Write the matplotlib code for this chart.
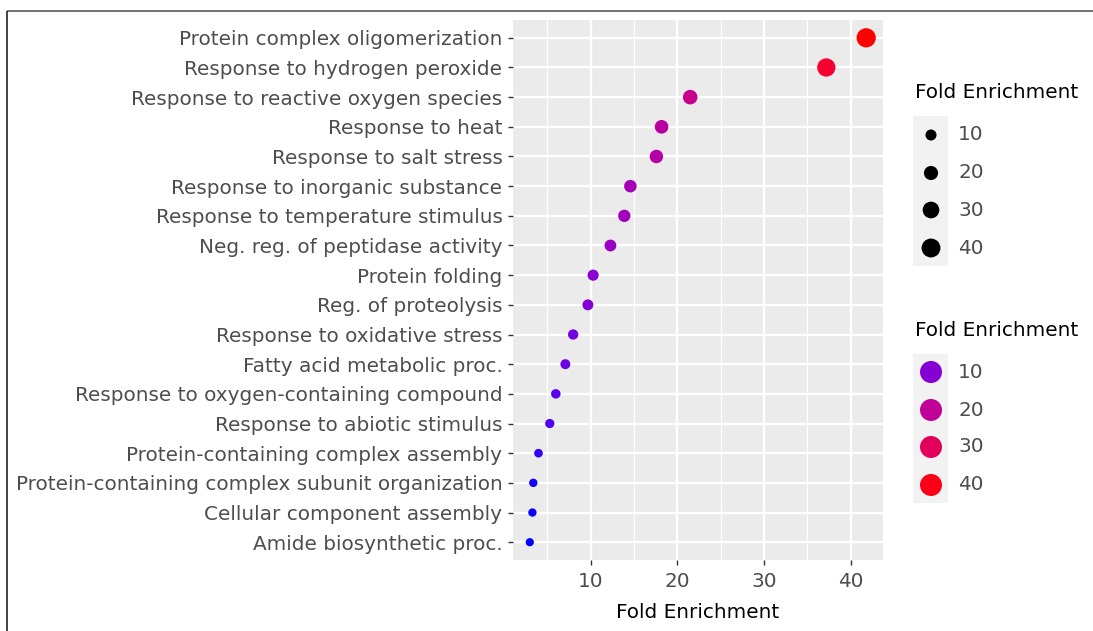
"""
Dot plot of enriched GO terms, ggplot-like look.
Size and colour both encode fold enrichment (blue -> red, Lab interpolation).
"""

import matplotlib
matplotlib.use("Agg")
import matplotlib.pyplot as plt
import matplotlib.colors as mcolors
import numpy as np

OUTPUT_PATH = "out.png"

# ── data (top of the chart first) ─────────────────────────────────────────────
TERMS = [
    "Protein complex oligomerization",
    "Response to hydrogen peroxide",
    "Response to reactive oxygen species",
    "Response to heat",
    "Response to salt stress",
    "Response to inorganic substance",
    "Response to temperature stimulus",
    "Neg. reg. of peptidase activity",
    "Protein folding",
    "Reg. of proteolysis",
    "Response to oxidative stress",
    "Fatty acid metabolic proc.",
    "Response to oxygen-containing compound",
    "Response to abiotic stimulus",
    "Protein-containing complex assembly",
    "Protein-containing complex subunit organization",
    "Cellular component assembly",
    "Amide biosynthetic proc.",
]
FOLD = [41.8, 37.2, 21.5, 18.2, 17.6, 14.6, 13.9, 12.3, 10.3,
        9.7, 8.0, 7.1, 6.0, 5.3, 4.0, 3.4, 3.3, 3.0]
LEGEND_VALUES = [10, 20, 30, 40]
X_TICKS = [10, 20, 30, 40]

TEXT_GRAY = "#4D4D4D"
PANEL_BG = "#EBEBEB"
KEY_BG = "#F2F2F2"
FONT = "DejaVu Sans"
FS = 14.4

plt.rcParams["font.family"] = FONT
PX = 0.72  # points per pixel at dpi=100


# ── colour scale: ggplot gradient blue -> red interpolated in Lab ─────────────
def _srgb_to_lab(rgb):
    rgb = np.asarray(rgb, float)
    lin = np.where(rgb <= 0.04045, rgb / 12.92, ((rgb + 0.055) / 1.055) ** 2.4)
    m = np.array([[0.4124, 0.3576, 0.1805],
                  [0.2126, 0.7152, 0.0722],
                  [0.0193, 0.1192, 0.9505]])
    xyz = m @ lin / np.array([0.95047, 1.0, 1.08883])
    d = 6 / 29
    f = np.where(xyz > d ** 3, np.cbrt(xyz), xyz / (3 * d * d) + 4 / 29)
    return np.array([116 * f[1] - 16, 500 * (f[0] - f[1]), 200 * (f[1] - f[2])])


def _lab_to_srgb(lab):
    L, a, b = lab
    fy = (L + 16) / 116
    f = np.array([fy + a / 500, fy, fy - b / 200])
    d = 6 / 29
    xyz = np.where(f > d, f ** 3, 3 * d * d * (f - 4 / 29))
    xyz = xyz * np.array([0.95047, 1.0, 1.08883])
    minv = np.array([[3.2406, -1.5372, -0.4986],
                     [-0.9689, 1.8758, 0.0415],
                     [0.0557, -0.2040, 1.0570]])
    lin = np.clip(minv @ xyz, 0, 1)
    rgb = np.where(lin <= 0.0031308, lin * 12.92, 1.055 * lin ** (1 / 2.4) - 0.055)
    return np.clip(rgb, 0, 1)


lab_lo = _srgb_to_lab([0, 0, 1])
lab_hi = _srgb_to_lab([1, 0, 0])
cmap = mcolors.LinearSegmentedColormap.from_list(
    "blue_red_lab",
    [_lab_to_srgb(lab_lo + t * (lab_hi - lab_lo)) for t in np.linspace(0, 1, 64)],
)
norm = mcolors.Normalize(vmin=min(FOLD), vmax=max(FOLD))


def dot_size(v):
    # marker area grows linearly with the value (px^2 -> pt^2)
    area_px = 44 + 7.8 * np.asarray(v, float)
    return area_px * PX * PX


# ── figure ────────────────────────────────────────────────────────────────────
W, H = 1093, 631
fig = plt.figure(figsize=(W / 100, H / 100), dpi=100)
fig.patch.set_facecolor("white")

ax = fig.add_axes([513 / W, 1 - 560 / H, (883 - 513) / W, (560 - 20) / H])
ax.set_facecolor(PANEL_BG)
for sp in ax.spines.values():
    sp.set_visible(False)

ypos = np.arange(len(TERMS))[::-1]
ax.set_xlim(1.06, 43.74)
ax.set_ylim(-0.6, len(TERMS) - 0.4)

ax.set_xticks(X_TICKS)
ax.set_xticks([5, 15, 25, 35], minor=True)
ax.set_yticks(ypos)
ax.set_yticklabels(TERMS)
ax.grid(which="major", color="white", linewidth=1.7)
ax.grid(which="minor", axis="x", color="white", linewidth=0.9)
ax.set_axisbelow(True)
ax.tick_params(axis="y", which="major", length=3.6, width=1.0,
               color="#333333", labelcolor=TEXT_GRAY, labelsize=FS, pad=4)
ax.tick_params(axis="x", which="major", length=3.6, width=1.0,
               color="#333333", labelcolor=TEXT_GRAY, labelsize=FS, pad=5)
ax.tick_params(axis="both", which="minor", length=0)

ax.scatter(FOLD, ypos, s=dot_size(FOLD), c=FOLD, cmap=cmap, norm=norm,
           linewidths=0, zorder=3)

ax.set_xlabel("Fold Enrichment", fontsize=FS, color="black", labelpad=9)

# ── legends + outer frame, drawn on a pixel-coordinate overlay ────────────────
lax = fig.add_axes([0, 0, 1, 1], facecolor="none")
lax.set_xlim(0, W)
lax.set_ylim(H, 0)
lax.axis("off")

# frame lines (top and left)
lax.plot([7, W], [10.5, 10.5], color="#5A5A5A", linewidth=1.2, solid_capstyle="butt")
lax.plot([7, 7], [10.5, H], color="#222222", linewidth=1.2, solid_capstyle="butt")

leg_rows = {
    "size": (92, 116, 266, [135, 173, 210, 248]),
    "colour": (330, 354, 503, [372, 410, 447, 485]),
}

for kind, (title_y, bg_top, bg_bot, rows) in leg_rows.items():
    lax.text(915, title_y, "Fold Enrichment", fontsize=FS, color="black",
             ha="left", va="center")
    lax.add_patch(plt.Rectangle((913, bg_top), 35, bg_bot - bg_top,
                                facecolor=KEY_BG, edgecolor="none"))
    if kind == "size":
        lax.scatter([931] * len(rows), rows, s=dot_size(LEGEND_VALUES),
                    color="black", linewidths=0, zorder=3)
    else:
        lax.scatter([931] * len(rows), rows, s=(22 * PX) ** 2,
                    c=LEGEND_VALUES, cmap=cmap, norm=norm, linewidths=0, zorder=3)
    for yv, val in zip(rows, LEGEND_VALUES):
        lax.text(958, yv, str(val), fontsize=FS, color=TEXT_GRAY,
                 ha="left", va="center")

fig.savefig(OUTPUT_PATH, dpi=100)
